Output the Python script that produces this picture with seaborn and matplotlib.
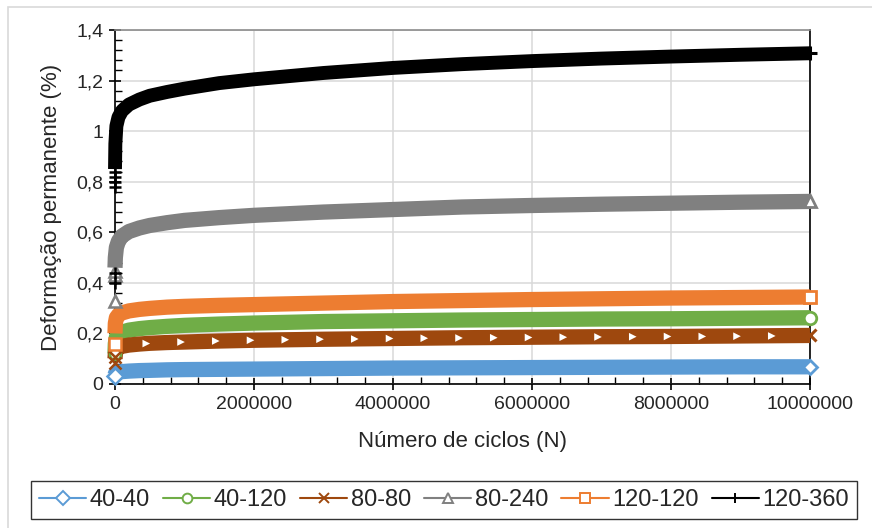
import numpy as np
import pandas as pd
import matplotlib
matplotlib.use("Agg")
import matplotlib.pyplot as plt
import seaborn as sns
from matplotlib.ticker import MultipleLocator, FuncFormatter
from matplotlib.lines import Line2D
from matplotlib.patches import Rectangle

# Data (N = cycles, y = permanent deformation %)
n_cycles = [0, 5000, 20000, 50000, 100000, 200000, 350000, 500000, 750000,
            1000000, 1500000, 2000000, 3000000, 4000000, 5000000, 6000000,
            7000000, 8000000, 9000000, 10000000]
y_40_40 = [0.035, 0.04, 0.044, 0.047, 0.049, 0.051, 0.053, 0.054, 0.056, 0.057,
           0.058, 0.059, 0.061, 0.063, 0.064, 0.065, 0.066, 0.067, 0.068, 0.068]
y_40_120 = [0.12, 0.16, 0.185, 0.197, 0.205, 0.213, 0.219, 0.223, 0.228, 0.232,
            0.237, 0.241, 0.247, 0.25, 0.253, 0.255, 0.257, 0.258, 0.26, 0.262]
y_80_80 = [0.10, 0.12, 0.135, 0.143, 0.149, 0.154, 0.158, 0.161, 0.164, 0.166,
           0.17, 0.173, 0.177, 0.18, 0.183, 0.185, 0.187, 0.188, 0.19, 0.192]
y_80_240 = [0.46, 0.50, 0.54, 0.565, 0.585, 0.603, 0.617, 0.627, 0.638, 0.647,
            0.658, 0.667, 0.68, 0.69, 0.70, 0.706, 0.711, 0.715, 0.719, 0.722]
y_120_120 = [0.20, 0.24, 0.262, 0.273, 0.281, 0.289, 0.295, 0.299, 0.304, 0.307,
             0.311, 0.314, 0.32, 0.326, 0.33, 0.334, 0.337, 0.34, 0.342, 0.344]
y_120_360 = [0.85, 0.95, 1.02, 1.055, 1.08, 1.105, 1.125, 1.14, 1.155, 1.168,
             1.19, 1.205, 1.23, 1.25, 1.265, 1.277, 1.287, 1.295, 1.302, 1.308]

# first readings (N ~ 0), visible as separate markers on the axis
start_40_40 = [0.03]
start_40_120 = [0.12]
start_80_80 = [0.083, 0.107]
start_80_240 = [0.33, 0.43, 0.445]
start_120_120 = [0.16]
start_120_360 = [0.40, 0.44, 0.78, 0.80, 0.82, 0.84]

# odd white markers seen along the 80-80 band
tri_n = [450000, 950000, 1450000, 1950000, 2450000, 2950000, 3450000,
         3950000, 4450000, 4950000, 5450000, 5950000, 6450000, 6950000,
         7450000, 7950000, 8450000, 8950000, 9450000]
tri_y = [0.16, 0.166, 0.17, 0.173, 0.175, 0.177, 0.178, 0.18, 0.181,
         0.182, 0.183, 0.184, 0.185, 0.186, 0.187, 0.188, 0.188, 0.189, 0.19]

labels = ["40-40", "40-120", "80-80", "80-240", "120-120", "120-360"]
curves = [y_40_40, y_40_120, y_80_80, y_80_240, y_120_120, y_120_360]
starts = [start_40_40, start_40_120, start_80_80, start_80_240,
          start_120_120, start_120_360]
colors = ["#5B9BD5", "#70AD47", "#9E480E", "#808080", "#ED7D31", "#000000"]
markers = ["D", "o", "x", "^", "s", "+"]
band_w = [11, 11, 11, 11, 11, 10]
end_size = [7.5, 9, 9, 9, 9, 10]

sns.set_theme(style="white")
plt.rcParams["font.family"] = ["Liberation Sans", "DejaVu Sans"]

fig = plt.figure(figsize=(8.72, 5.28), dpi=100)
ax = fig.add_axes([115 / 872, 1 - 384 / 528, 695 / 872, 354 / 528])

# outer chart border
fig.patches.append(Rectangle((8 / 872, -0.1), 1.2, 1 - 7 / 528 + 0.1,
                             transform=fig.transFigure, fill=False,
                             edgecolor="#D9D9D9", linewidth=1.2))

for lab, ys, st, col, mk, w, es in zip(labels, curves, starts, colors, markers,
                                       band_w, end_size):
    df = pd.DataFrame({"N": n_cycles, "y": ys})
    sns.lineplot(data=df, x="N", y="y", ax=ax, color=col, linewidth=w,
                 estimator=None, sort=False, legend=False,
                 solid_capstyle="butt", solid_joinstyle="round",
                 clip_on=False, zorder=3)
    open_mk = mk not in ("x", "+")
    mfc = "white" if open_mk else col
    ax.plot([0] * len(st), st, linestyle="none", marker=mk, markersize=8,
            markerfacecolor=mfc, markeredgecolor=col, markeredgewidth=1.8,
            clip_on=False, zorder=4)
    ax.plot([n_cycles[-1]], [ys[-1]], linestyle="none", marker=mk, markersize=es,
            markerfacecolor=mfc, markeredgecolor=col,
            markeredgewidth=2 if open_mk else 2.2, clip_on=False, zorder=4)

sns.scatterplot(x=tri_n, y=tri_y, ax=ax, marker=">", s=30, color="white",
                edgecolor="none", zorder=5, legend=False)

ax.set_xlim(0, 10000000)
ax.set_ylim(0, 1.4)
ax.xaxis.set_major_locator(MultipleLocator(2000000))
ax.xaxis.set_minor_locator(MultipleLocator(400000))
ax.yaxis.set_major_locator(MultipleLocator(0.2))
ax.yaxis.set_minor_locator(MultipleLocator(0.04))
ax.xaxis.set_major_formatter(FuncFormatter(lambda v, p: f"{int(round(v))}"))
ax.yaxis.set_major_formatter(FuncFormatter(
    lambda v, p: f"{v:.1f}".rstrip("0").rstrip(".").replace(".", ",")))
ax.tick_params(which="major", direction="inout", length=9, width=1.2,
               colors="black", labelsize=14, labelcolor="#262626", pad=4)
ax.tick_params(which="minor", direction="in", length=5, width=1.0,
               colors="black")
ax.tick_params(axis="both", which="both", bottom=True, left=True,
               top=False, right=False)

ax.grid(True, which="major", color="#D9D9D9", linewidth=1.1, zorder=0)
ax.set_axisbelow(True)
for side in ["left", "bottom", "right"]:
    ax.spines[side].set_color("black")
    ax.spines[side].set_linewidth(1.2)
ax.spines["top"].set_color("#8C8C8C")
ax.spines["top"].set_linewidth(1.2)

ax.set_xlabel("Número de ciclos (N)", fontsize=16, color="#262626", labelpad=13)
ax.set_ylabel("Deformação permanente (%)", fontsize=16, color="#262626", labelpad=10)

handles = [Line2D([0], [0], color=c, lw=1.5, marker=m, markersize=7,
                  markerfacecolor="white" if m not in ("x", "+") else c,
                  markeredgecolor=c, markeredgewidth=1.4)
           for c, m in zip(colors, markers)]
leg = fig.legend(handles, labels, loc="center",
                 bbox_to_anchor=(444 / 872, 1 - 500 / 528),
                 ncol=6, fontsize=17, frameon=True, fancybox=False,
                 handlelength=2.0, handletextpad=0.15, columnspacing=0.55,
                 borderpad=0.35, edgecolor="black")
leg.get_frame().set_linewidth(1.0)
for t in leg.get_texts():
    t.set_color("#262626")

fig.savefig("out.png", dpi=100)
